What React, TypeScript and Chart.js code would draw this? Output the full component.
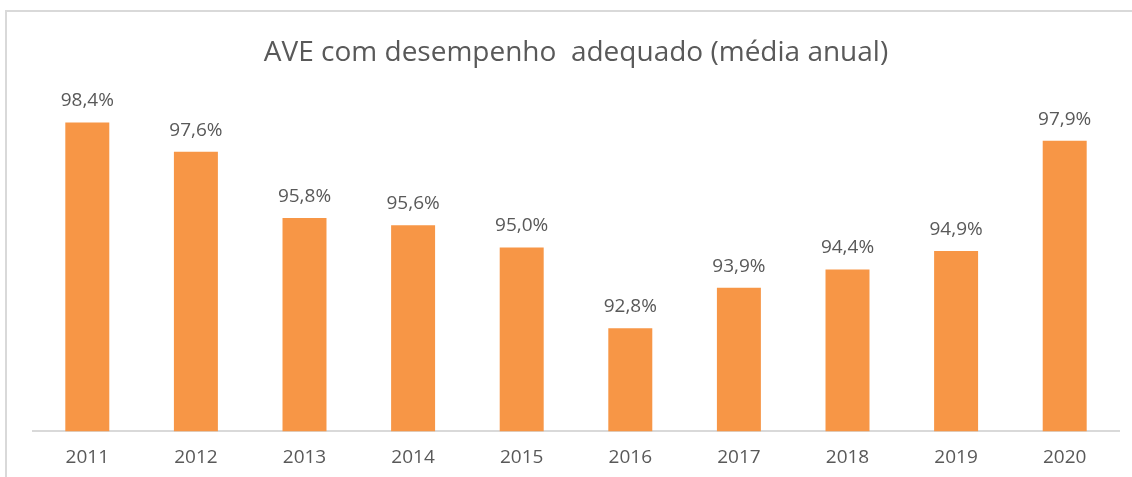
import React, { useEffect, useRef } from "react";
import { Chart, registerables } from "chart.js";

Chart.register(...registerables);

const years = ["2011", "2012", "2013", "2014", "2015", "2016", "2017", "2018", "2019", "2020"];
const values = [98.4, 97.6, 95.8, 95.6, 95.0, 92.8, 93.9, 94.4, 94.9, 97.9];
const title = "AVE com desempenho  adequado (média anual)";

const FONT = "'Open Sans', 'Noto Sans', sans-serif";
const TEXT = "#595959";

const labelPlugin = {
  id: "barLabels",
  afterDatasetsDraw(chart: any) {
    const ctx = chart.ctx;
    const meta = chart.getDatasetMeta(0);
    ctx.save();
    ctx.font = `19px ${FONT}`;
    ctx.fillStyle = TEXT;
    ctx.textAlign = "center";
    ctx.textBaseline = "alphabetic";
    meta.data.forEach((bar: any, i: number) => {
      const txt = values[i].toFixed(1).replace(".", ",") + "%";
      ctx.fillText(txt, bar.x, bar.y - 16);
    });
    ctx.restore();
  },
};

export default function App() {
  const ref = useRef<HTMLCanvasElement>(null);
  useEffect(() => {
    if (!ref.current) return;
    const chart = new Chart(ref.current, {
      type: "bar",
      data: {
        labels: years,
        datasets: [
          {
            data: values,
            backgroundColor: "#F79646",
            barPercentage: 0.405,
            categoryPercentage: 1,
          },
        ],
      },
      options: {
        animation: false,
        responsive: false,
        maintainAspectRatio: false,
        layout: { padding: { left: 33, right: 13, top: 0, bottom: -7 } },
        plugins: {
          legend: { display: false },
          tooltip: { enabled: false },
          title: {
            display: true,
            text: title,
            color: TEXT,
            font: { family: FONT, size: 28, weight: "normal" },
            padding: { top: 36, bottom: -6 },
          },
        },
        scales: {
          y: { display: false, min: 90, max: 100 },
          x: {
            grid: { display: false, drawTicks: false },
            border: { display: true, color: "#d9d9d9", width: 2 },
            ticks: { color: TEXT, font: { family: FONT, size: 19 }, padding: 15, maxRotation: 0, autoSkip: false },
          },
        },
      },
      plugins: [labelPlugin],
    });
    return () => chart.destroy();
  }, []);
  return (
    <div style={{ position: "fixed", left: 0, top: 0, width: 1132, height: 477, background: "#fff" }}>
      <canvas ref={ref} width={1132} height={477} style={{ position: "absolute", left: 0, top: 0 }} />
      <div
        style={{
          position: "absolute",
          left: 5,
          top: 10,
          right: 0,
          bottom: 0,
          borderTop: "2px solid #d9d9d9",
          borderLeft: "2px solid #d9d9d9",
          pointerEvents: "none",
        }}
      />
    </div>
  );
}
